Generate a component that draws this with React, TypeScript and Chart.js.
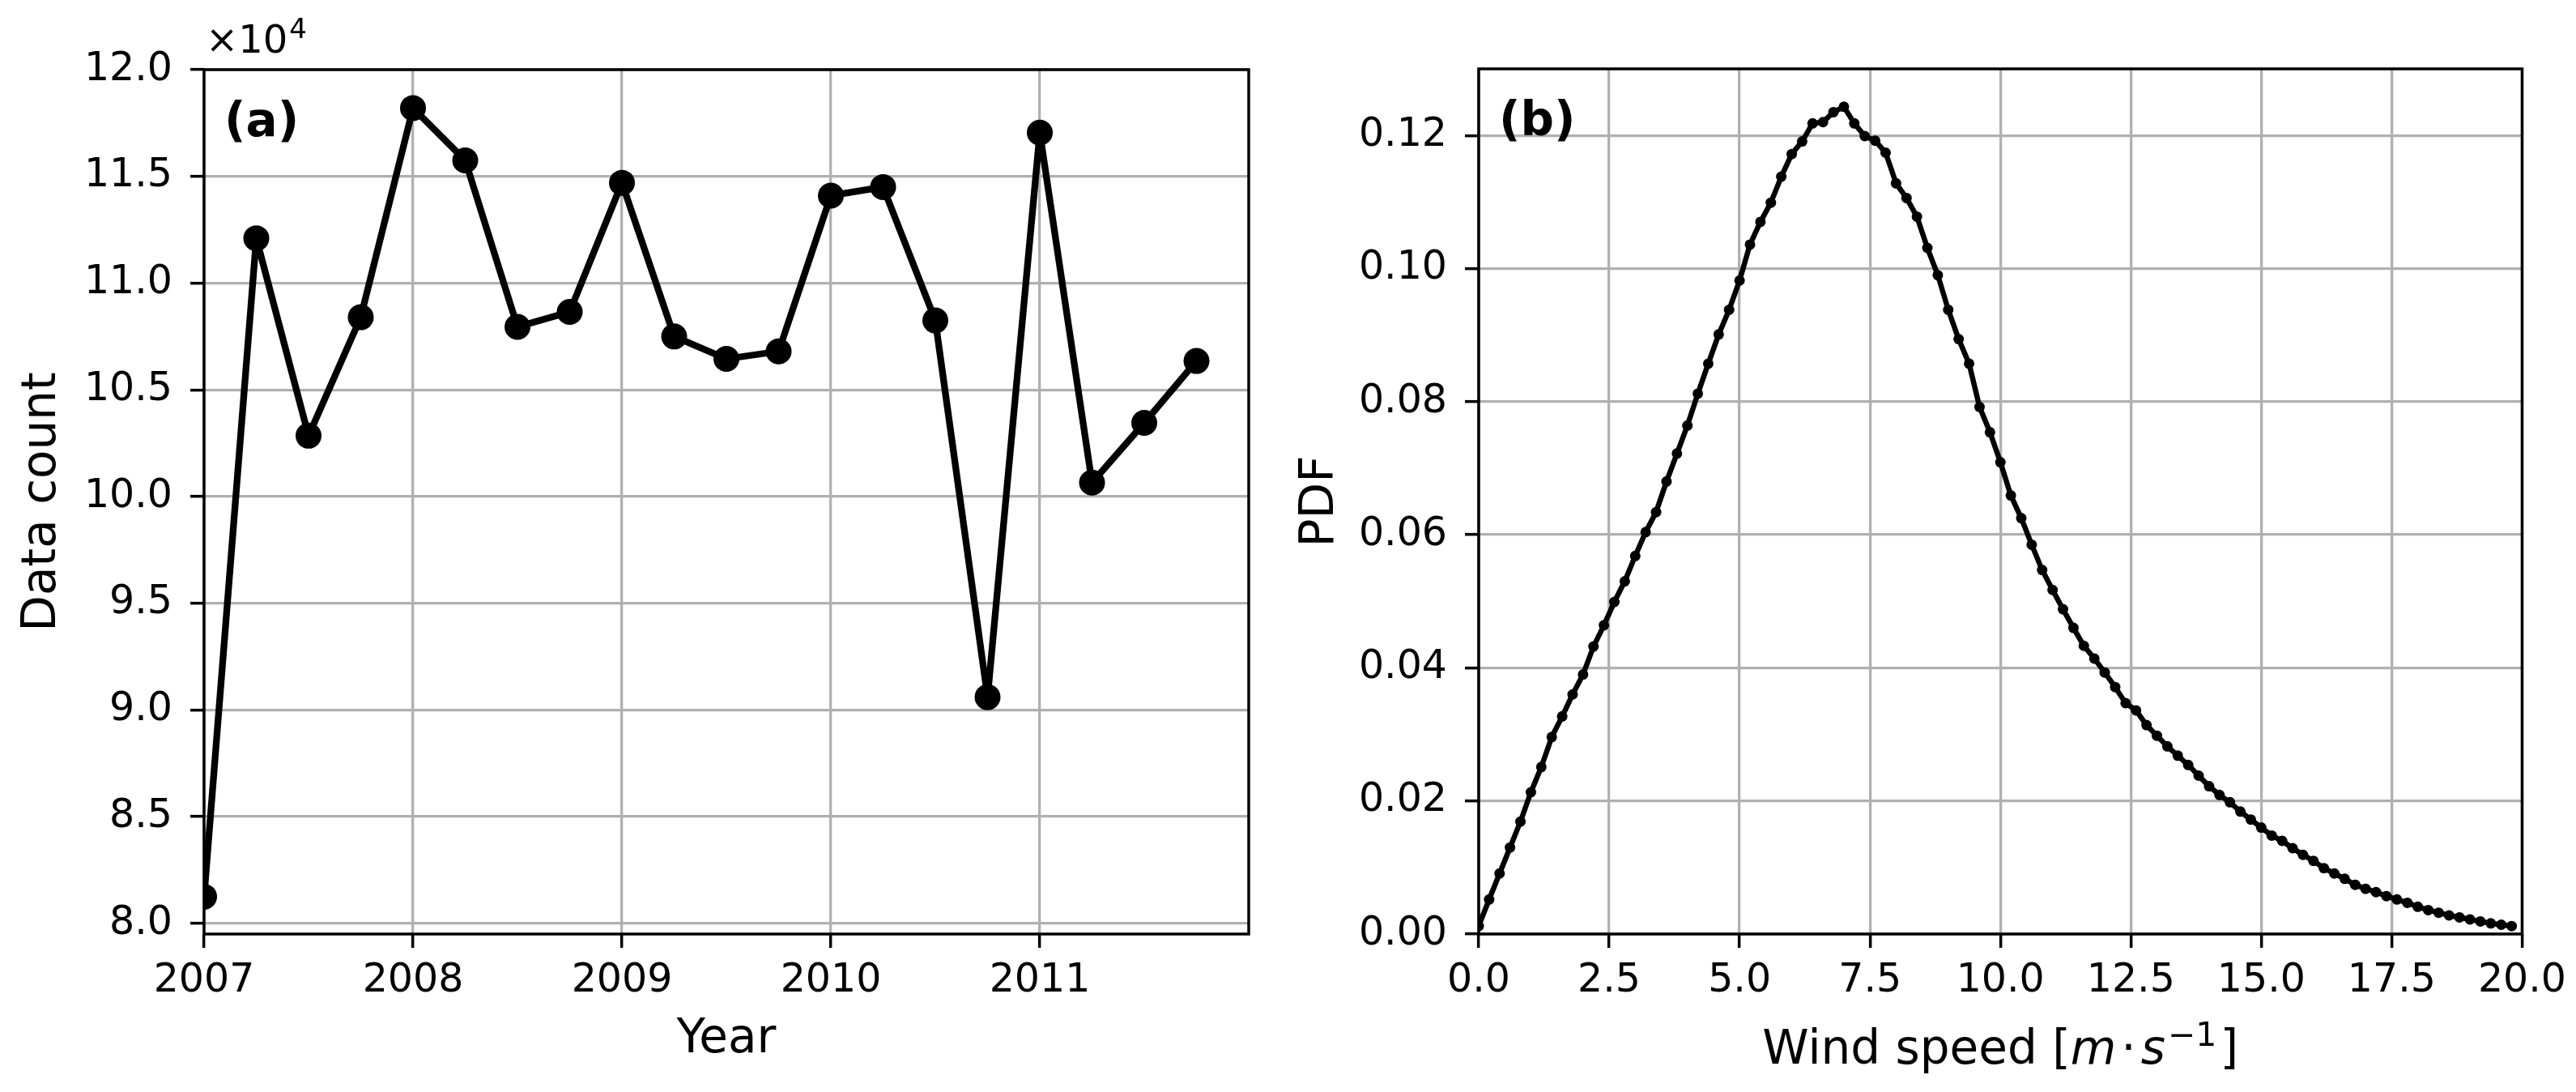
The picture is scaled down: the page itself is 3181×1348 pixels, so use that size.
import React, { useEffect, useRef } from 'react';
import { Chart, registerables } from 'chart.js';

Chart.register(...registerables);

// ---------- Panel (a): quarterly data count ----------
const quarterYears = [
  2007, 2007.25, 2007.5, 2007.75, 2008, 2008.25, 2008.5, 2008.75, 2009, 2009.25,
  2009.5, 2009.75, 2010, 2010.25, 2010.5, 2010.75, 2011, 2011.25, 2011.5, 2011.75,
];
const dataCounts = [
  81250, 112100, 102850, 108400, 118200, 115750, 107950, 108650, 114700, 107500,
  106450, 106800, 114100, 114500, 108250, 90600, 117050, 100650, 103450, 106350,
];
const yearTicks = [2007, 2008, 2009, 2010, 2011];
const countTicks = [80000, 85000, 90000, 95000, 100000, 105000, 110000, 115000, 120000];

// ---------- Panel (b): wind speed PDF ----------
const windSpeeds = [
  0.0, 0.2, 0.4, 0.6, 0.8, 1.0, 1.2, 1.4, 1.6, 1.8,
  2.0, 2.2, 2.4, 2.6, 2.8, 3.0, 3.2, 3.4, 3.6, 3.8,
  4.0, 4.2, 4.4, 4.6, 4.8, 5.0, 5.2, 5.4, 5.6, 5.8,
  6.0, 6.2, 6.4, 6.6, 6.8, 7.0, 7.2, 7.4, 7.6, 7.8,
  8.0, 8.2, 8.4, 8.6, 8.8, 9.0, 9.2, 9.4, 9.6, 9.8,
  10.0, 10.2, 10.4, 10.6, 10.8, 11.0, 11.2, 11.4, 11.6, 11.8,
  12.0, 12.2, 12.4, 12.6, 12.8, 13.0, 13.2, 13.4, 13.6, 13.8,
  14.0, 14.2, 14.4, 14.6, 14.8, 15.0, 15.2, 15.4, 15.6, 15.8,
  16.0, 16.2, 16.4, 16.6, 16.8, 17.0, 17.2, 17.4, 17.6, 17.8,
  18.0, 18.2, 18.4, 18.6, 18.8, 19.0, 19.2, 19.4, 19.6, 19.8,
];
const pdfValues = [
  0.0012, 0.0052, 0.0091, 0.0130, 0.0169, 0.0213, 0.0251, 0.0296, 0.0327, 0.0360,
  0.0390, 0.0432, 0.0464, 0.0499, 0.0530, 0.0568, 0.0604, 0.0634, 0.0680, 0.0722,
  0.0764, 0.0812, 0.0857, 0.0901, 0.0938, 0.0982, 0.1036, 0.1070, 0.1099, 0.1138,
  0.1172, 0.1191, 0.1218, 0.1220, 0.1235, 0.1243, 0.1218, 0.1199, 0.1192, 0.1174,
  0.1128, 0.1106, 0.1078, 0.1031, 0.0990, 0.0938, 0.0894, 0.0857, 0.0792, 0.0754,
  0.0709, 0.0659, 0.0625, 0.0585, 0.0547, 0.0517, 0.0488, 0.0460, 0.0433, 0.0414,
  0.0393, 0.0371, 0.0347, 0.0336, 0.0314, 0.0298, 0.0282, 0.0268, 0.0254, 0.0238,
  0.0222, 0.0209, 0.0198, 0.0184, 0.0172, 0.0160, 0.0148, 0.0140, 0.0129, 0.0119,
  0.0110, 0.0099, 0.0091, 0.0083, 0.0074, 0.0068, 0.0063, 0.0057, 0.0052, 0.0047,
  0.0041, 0.0036, 0.0032, 0.0028, 0.0025, 0.0022, 0.0019, 0.0016, 0.0014, 0.0012,
];
const speedTicks = [0, 2.5, 5, 7.5, 10, 12.5, 15, 17.5, 20];
const pdfTicks = [0, 0.02, 0.04, 0.06, 0.08, 0.1, 0.12];

const FONT = "'DejaVu Sans'";
const TICK_SIZE = 49;
const LABEL_SIZE = 58;
const GRID_COLOR = '#b0b0b0';
const GRID_W = 3.3;
const SPINE_W = 3.5;

Chart.defaults.font.family = FONT;
Chart.defaults.color = '#000';

function gridOpts() {
  return {
    color: GRID_COLOR,
    lineWidth: GRID_W,
    drawTicks: true,
    tickLength: 17,
    tickColor: '#000',
    tickWidth: SPINE_W,
  };
}

function framePlugin(extra: (ctx: CanvasRenderingContext2D, area: any) => void) {
  return {
    id: 'frameAndText',
    afterDraw(chart: any) {
      const ctx: CanvasRenderingContext2D = chart.ctx;
      const a = chart.chartArea;
      ctx.save();
      ctx.strokeStyle = '#000';
      ctx.lineWidth = SPINE_W;
      ctx.strokeRect(a.left, a.top, a.right - a.left, a.bottom - a.top);
      ctx.restore();
      ctx.save();
      extra(ctx, a);
      ctx.restore();
    },
  };
}

function drawPanelLetter(ctx: CanvasRenderingContext2D, a: any, letter: string) {
  ctx.fillStyle = '#000';
  ctx.font = `bold ${LABEL_SIZE}px ${FONT}`;
  ctx.textBaseline = 'alphabetic';
  ctx.textAlign = 'left';
  ctx.fillText(letter, a.left + 25, a.top + 82);
}

function drawOffsetText(ctx: CanvasRenderingContext2D, a: any) {
  ctx.fillStyle = '#000';
  ctx.textBaseline = 'alphabetic';
  ctx.textAlign = 'left';
  ctx.font = `48px ${FONT}`;
  const base = '\u00d710';
  const x0 = a.left + 2;
  ctx.fillText(base, x0, 65);
  const w = ctx.measureText(base).width;
  ctx.font = `34px ${FONT}`;
  ctx.fillText('4', x0 + w + 2, 47);
}

function drawWindLabel(ctx: CanvasRenderingContext2D, a: any) {
  const cx = (a.left + a.right) / 2;
  const baseline = 1313;
  const normal = `${LABEL_SIZE}px ${FONT}`;
  const italic = `italic ${LABEL_SIZE}px ${FONT}`;
  const sup = `41px ${FONT}`;
  const parts: { t: string; font: string; dy: number; gapBefore: number }[] = [
    { t: 'Wind speed [', font: normal, dy: 0, gapBefore: 0 },
    { t: 'm', font: italic, dy: 0, gapBefore: 0 },
    { t: '\u00b7', font: normal, dy: 0, gapBefore: 6 },
    { t: 's', font: italic, dy: 0, gapBefore: 6 },
    { t: '\u22121', font: sup, dy: -22, gapBefore: 3 },
    { t: ']', font: normal, dy: 0, gapBefore: 4 },
  ];
  let total = 0;
  const widths: number[] = [];
  for (const p of parts) {
    ctx.font = p.font;
    const w = ctx.measureText(p.t).width;
    widths.push(w);
    total += w + p.gapBefore;
  }
  let x = cx - total / 2;
  ctx.fillStyle = '#000';
  ctx.textBaseline = 'alphabetic';
  ctx.textAlign = 'left';
  parts.forEach((p, i) => {
    x += p.gapBefore;
    ctx.font = p.font;
    ctx.fillText(p.t, x, baseline + p.dy);
    x += widths[i];
  });
}

function makeTicks(values: number[]) {
  return (axis: any) => {
    axis.ticks = values.map((v) => ({ value: v }));
  };
}

function ChartA() {
  const ref = useRef<HTMLCanvasElement>(null);
  useEffect(() => {
    if (!ref.current) return;
    const chart = new Chart(ref.current, {
      type: 'line',
      data: {
        datasets: [
          {
            data: quarterYears.map((x, i) => ({ x, y: dataCounts[i] })),
            borderColor: '#000',
            backgroundColor: '#000',
            borderWidth: 8.3,
            borderJoinStyle: 'round',
            borderCapStyle: 'round',
            pointRadius: 16,
            pointBorderWidth: 0,
            pointBackgroundColor: '#000',
            tension: 0,
            clip: 0,
          } as any,
        ],
      },
      options: {
        animation: false,
        responsive: false,
        devicePixelRatio: 1,
        events: [],
        layout: { padding: { top: 86, right: 58, bottom: 0, left: 0 } },
        plugins: { legend: { display: false }, tooltip: { enabled: false } },
        scales: {
          x: {
            type: 'linear',
            min: 2007,
            max: 2012,
            afterBuildTicks: makeTicks(yearTicks),
            afterFit: (ax: any) => {
              ax.height = 195;
            },
            grid: gridOpts(),
            border: { display: false },
            ticks: {
              callback: (v: any) => String(v),
              font: { size: TICK_SIZE },
              color: '#000',
              padding: 12,
              autoSkip: false,
              maxRotation: 0,
            },
            title: {
              display: true,
              text: 'Year',
              color: '#000',
              font: { size: LABEL_SIZE, lineHeight: 1 },
              padding: { top: 0, bottom: 35 },
            },
          },
          y: {
            type: 'linear',
            min: 79500,
            max: 120000,
            afterBuildTicks: makeTicks(countTicks),
            afterFit: (ax: any) => {
              ax.width = 252;
            },
            grid: gridOpts(),
            border: { display: false },
            ticks: {
              callback: (v: any) => (Number(v) / 1e4).toFixed(1),
              font: { size: TICK_SIZE },
              color: '#000',
              padding: 22,
              autoSkip: false,
            },
            title: {
              display: true,
              text: 'Data count',
              color: '#000',
              font: { size: LABEL_SIZE, lineHeight: 1 },
              padding: { top: 24, bottom: 0 },
            },
          },
        },
      } as any,
      plugins: [
        framePlugin((ctx, a) => {
          drawPanelLetter(ctx, a, '(a)');
          drawOffsetText(ctx, a);
        }),
      ],
    });
    return () => chart.destroy();
  }, []);
  return (
    <canvas
      ref={ref}
      width={1600}
      height={1348}
      style={{ position: 'absolute', left: 0, top: 0, width: 1600, height: 1348 }}
    />
  );
}

function ChartB() {
  const ref = useRef<HTMLCanvasElement>(null);
  useEffect(() => {
    if (!ref.current) return;
    const chart = new Chart(ref.current, {
      type: 'line',
      data: {
        datasets: [
          {
            data: windSpeeds.map((x, i) => ({ x, y: pdfValues[i] })),
            borderColor: '#000',
            backgroundColor: '#000',
            borderWidth: 6.5,
            borderJoinStyle: 'round',
            borderCapStyle: 'round',
            pointRadius: 6.5,
            pointBorderWidth: 0,
            pointBackgroundColor: '#000',
            tension: 0,
            clip: 0,
          } as any,
        ],
      },
      options: {
        animation: false,
        responsive: false,
        devicePixelRatio: 1,
        events: [],
        layout: { padding: { top: 85, right: 65, bottom: 0, left: 0 } },
        plugins: { legend: { display: false }, tooltip: { enabled: false } },
        scales: {
          x: {
            type: 'linear',
            min: 0,
            max: 20,
            afterBuildTicks: makeTicks(speedTicks),
            afterFit: (ax: any) => {
              ax.height = 195;
            },
            grid: gridOpts(),
            border: { display: false },
            ticks: {
              callback: (v: any) => Number(v).toFixed(1),
              font: { size: TICK_SIZE },
              color: '#000',
              padding: 12,
              autoSkip: false,
              maxRotation: 0,
            },
            title: { display: false },
          },
          y: {
            type: 'linear',
            min: 0,
            max: 0.13,
            afterBuildTicks: makeTicks(pdfTicks),
            afterFit: (ax: any) => {
              ax.width = 226;
            },
            grid: gridOpts(),
            border: { display: false },
            ticks: {
              callback: (v: any) => Number(v).toFixed(2),
              font: { size: TICK_SIZE },
              color: '#000',
              padding: 22,
              autoSkip: false,
            },
            title: {
              display: true,
              text: 'PDF',
              color: '#000',
              font: { size: LABEL_SIZE, lineHeight: 1 },
              padding: { top: 2, bottom: 0 },
            },
          },
        },
      } as any,
      plugins: [
        framePlugin((ctx, a) => {
          drawPanelLetter(ctx, a, '(b)');
          drawWindLabel(ctx, a);
        }),
      ],
    });
    return () => chart.destroy();
  }, []);
  return (
    <canvas
      ref={ref}
      width={1581}
      height={1348}
      style={{ position: 'absolute', left: 1600, top: 0, width: 1581, height: 1348 }}
    />
  );
}

export default function App() {
  return (
    <div
      style={{
        position: 'absolute',
        left: 0,
        top: 0,
        width: 3181,
        height: 1348,
        background: '#fff',
        overflow: 'hidden',
      }}
    >
      <ChartA />
      <ChartB />
    </div>
  );
}
